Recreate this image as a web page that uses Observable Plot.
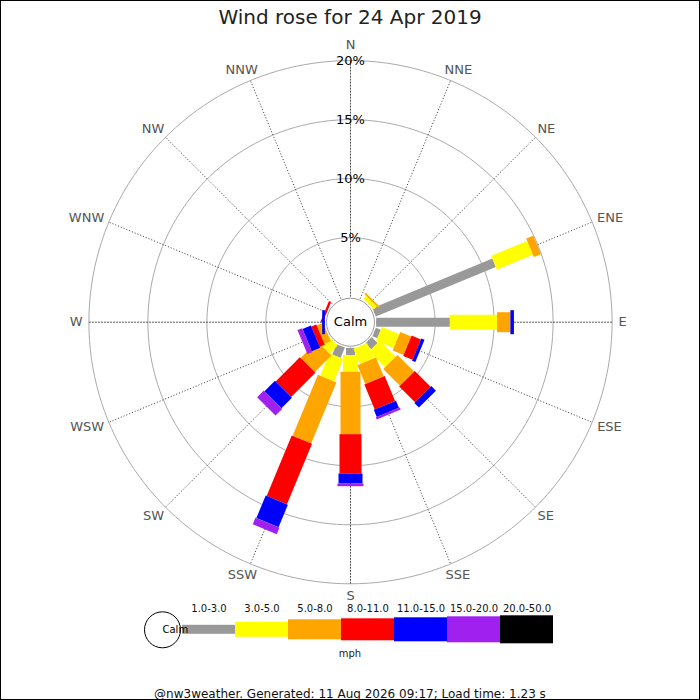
<!DOCTYPE html>
<html>
<head>
<meta charset="utf-8">
<script src="https://cdn.jsdelivr.net/npm/d3@7"></script>
<script src="https://cdn.jsdelivr.net/npm/@observablehq/plot@0.6"></script>
<style>
  html, body { margin: 0; padding: 0; background: #fff; }
  #frame { box-sizing: border-box; width: 700px; height: 700px; border: 1px solid #000;
           font-family: "DejaVu Sans", sans-serif; overflow: hidden; background: #fff; }
  #title { height: 33px; line-height: 33px; text-align: center; font-size: 20px; color: #222; }
  #mph { height: 18px; line-height: 18px; text-align: center; font-size: 10px; color: #222; }
  #footer { height: 36px; display: flex; align-items: flex-end; justify-content: center;
            font-size: 12px; line-height: 9px; color: #111; }
  svg { display: block; }
</style>
</head>
<body>
<div id="frame">
  <div id="title">Wind rose for 24 Apr 2019</div>
  <div id="chart"></div>
  <div id="legend"></div>
  <div id="mph">mph</div>
  <div id="footer">@nw3weather. Generated: 11 Aug 2026 09:17; Load time: 1.23 s</div>
</div>
<script>
// ---------------- DATA ----------------
const directions = ["N","NNE","NE","ENE","E","ESE","SE","SSE","S","SSW","SW","WSW","W","WNW","NW","NNW"];
const speedClasses = ["1.0-3.0","3.0-5.0","5.0-8.0","8.0-11.0","11.0-15.0","15.0-20.0","20.0-50.0"];
// percent of the day for each speed class (mph), per direction (order as `directions`)
const pct_1_3   = [0, 0, 0,    11.0, 6.25, 0.45, 0.7,  0,    0.63, 0.95, 0,    0,    0,    0,   0, 0];
const pct_3_5   = [0, 0, 0.35, 3.3,  4.0,  1.6,  1.9,  1.42, 1.41, 2.05, 0.97, 0,    0,    0,   0, 0];
const pct_5_8   = [0, 0, 0.15, 0.65, 1.13, 1.0,  2.0,  1.73, 5.28, 5.6,  2.0,  0.58, 0,    0,   0, 0];
const pct_8_11  = [0, 0, 0,    0,    0,    0.85, 1.9,  2.3,  3.33, 5.55, 2.9,  0.46, 0,    0.2, 0, 0];
const pct_11_15 = [0, 0, 0,    0,    0.3,  0.3,  0.55, 0.65, 0.85, 2.07, 1.25, 0.77, 0.23, 0,   0, 0];
const pct_15_20 = [0, 0, 0,    0,    0,    0,    0,    0.2,  0.23, 0.6,  0.8,  0.43, 0,    0,   0, 0];
const pct_20_50 = [0, 0, 0,    0,    0,    0,    0,    0,    0,    0,    0,    0,    0,    0,   0, 0];
const ringTicks  = [5, 10, 15, 20];
const ringLabels = ["5%", "10%", "15%", "20%"];
const calmLabel = "Calm";

// ---------------- STYLE ----------------
const classColors = ["#999999", "#ffff00", "#ffa500", "#ff0000", "#0000ff", "#a020f0", "#000000"];
const classWidths = [9, 15, 20, 22, 24, 26, 28];
const FONT = "DejaVu Sans";
const PX = 11.8;            // pixels per percent
const R0 = 25.6 / PX;       // calm circle radius in percent units
const W = 698, H = 569, CX = 349, CY = 287.7;
const DEG = Math.PI / 180;

// ---------------- DERIVED ----------------
const series = [pct_1_3, pct_3_5, pct_5_8, pct_8_11, pct_11_15, pct_15_20, pct_20_50];
const segments = [];
directions.forEach((dir, i) => {
  const a = i * 22.5 * DEG;
  let cum = 0;
  series.forEach((s, k) => {
    const v = s[i];
    if (v > 0) {
      const r1 = R0 + cum, r2 = R0 + cum + v;
      segments.push({dir, k, x1: r1 * Math.sin(a), y1: r1 * Math.cos(a), x2: r2 * Math.sin(a), y2: r2 * Math.cos(a)});
    }
    cum += v;
  });
});

const ringPts = [];
ringTicks.forEach(p => {
  for (let t = 0; t <= 360; t += 2) {
    ringPts.push({p, x: (R0 + p) * Math.sin(t * DEG), y: (R0 + p) * Math.cos(t * DEG)});
  }
});

const spokes = directions.map((d, i) => {
  const a = i * 22.5 * DEG, rOut = R0 + ringTicks[ringTicks.length - 1];
  return {d, cardinal: i % 4 === 0,
          x1: R0 * Math.sin(a), y1: R0 * Math.cos(a), x2: rOut * Math.sin(a), y2: rOut * Math.cos(a)};
});

const ctx = document.createElement("canvas").getContext("2d");
ctx.font = `13px "${FONT}"`;
const dirLabels = directions.map((d, i) => {
  const a = i * 22.5 * DEG, w = ctx.measureText(d).width;
  const c = Math.cos(a);
  // keep the north label clear of the top percentage label
  const vr = 273.4 + (c > 0.99 ? 3.5 : 0);
  return {d, x: (268 + w / 2) * Math.sin(a) / PX, y: vr * c / PX};
});

// ---------------- MAIN CHART ----------------
const chart = Plot.plot({
  width: W, height: H, margin: 0,
  x: {domain: [-CX / PX, (W - CX) / PX], range: [0, W], axis: null},
  y: {domain: [-(H - CY) / PX, CY / PX], range: [H, 0], axis: null},
  style: {fontFamily: FONT, background: "white"},
  marks: [
    Plot.line(ringPts, {x: "x", y: "y", z: "p", stroke: "#aaaaaa", strokeWidth: 1}),
    Plot.link(spokes.filter(s => s.cardinal), {x1: "x1", y1: "y1", x2: "x2", y2: "y2",
      stroke: "#555", strokeWidth: 1, strokeDasharray: "2,1"}),
    Plot.link(spokes.filter(s => !s.cardinal), {x1: "x1", y1: "y1", x2: "x2", y2: "y2",
      stroke: "#333", strokeWidth: 1, strokeDasharray: "1,2"}),
    ...series.map((_, k) => Plot.link(segments.filter(d => d.k === k), {
      x1: "x1", y1: "y1", x2: "x2", y2: "y2",
      stroke: classColors[k], strokeWidth: classWidths[k], strokeLinecap: "butt"})),
    Plot.dot([calmLabel], {x: () => 0, y: () => 0, r: 24, fill: "white", stroke: "#999", strokeWidth: 1}),
    Plot.text([calmLabel], {x: () => 0, y: () => 0, text: d => d, fontSize: 13, fill: "#000"}),
    Plot.text(ringTicks, {x: () => 0, y: p => R0 + p, text: (p, i) => ringLabels[i], fontSize: 13, fill: "#000"}),
    Plot.text(dirLabels, {x: "x", y: "y", text: "d", fontSize: 13, fill: "#555"})
  ]
});
document.getElementById("chart").appendChild(chart);

// ---------------- LEGEND ----------------
const legendData = speedClasses.map((label, i) => ({label, color: classColors[i], w: classWidths[i]}));
const LH = 42, LCY = 26.3;
const legend = Plot.plot({
  width: W, height: LH,
  marginLeft: 179, marginRight: W - 554.7, marginTop: 11.7, marginBottom: 0,
  x: {type: "band", domain: speedClasses, padding: 0},
  y: {domain: [-15, 15], range: [LCY + 15, LCY - 15], axis: null},
  color: {type: "identity"},
  style: {fontFamily: FONT, background: "white", overflow: "visible"},
  marks: [
    Plot.barY(legendData, {x: "label", y1: d => -d.w / 2, y2: d => d.w / 2, fill: "color", inset: 0}),
    Plot.axisX({anchor: "top", tickSize: 0, tickPadding: 3, fontSize: 10, label: null, fill: "#111"}),
    Plot.dot([calmLabel], {frameAnchor: "left", y: () => 0, dx: -18, r: 18, fill: "white", stroke: "#000", strokeWidth: 1}),
    Plot.text([calmLabel], {frameAnchor: "left", y: () => 0, dx: -18, text: d => d, fontSize: 10, fill: "#000"})
  ]
});
document.getElementById("legend").appendChild(legend);
</script>
</body>
</html>
